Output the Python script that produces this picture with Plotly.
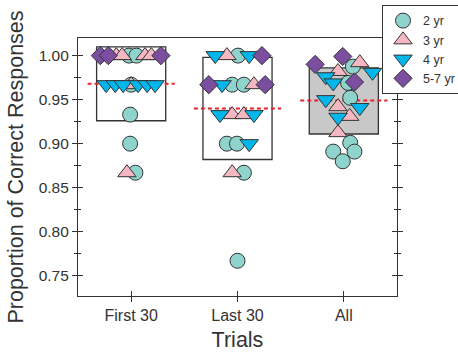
import plotly.graph_objects as go

# ---------------- data ----------------
categories = ["First 30", "Last 30", "All"]
legend_names = ["2 yr", "3 yr", "4 yr", "5-7 yr"]

# each series: group index, jitter offset (category units), proportion value
yr2_group = [0, 0, 0, 0, 0, 0, 1, 1, 1, 1, 1, 1, 1, 2, 2, 2, 2, 2, 2, 2]
yr2_jit = [-0.02, 0.05, 0.0, -0.01, -0.01, 0.04, 0.005, -0.05, 0.06, -0.10, -0.005, 0.06, 0.0,
           0.085, 0.04, 0.06, 0.06, -0.10, 0.10, -0.01]
yr2_val = [1.0, 1.0, 0.967, 0.933, 0.9, 0.867, 1.0, 0.967, 0.967, 0.9, 0.9, 0.867, 0.767,
           0.9875, 0.969, 0.952, 0.901, 0.891, 0.891, 0.880]

yr3_group = [0, 0, 0, 0, 0, 0, 1, 1, 1, 1, 1, 2, 2, 2, 2, 2]
yr3_jit = [-0.14, -0.085, 0.13, 0.19, 0.0, -0.04, -0.10, 0.155, -0.05, 0.06, -0.05,
           0.15, -0.055, -0.055, 0.055, -0.055]
yr3_val = [1.0, 1.0, 1.0, 1.0, 0.967, 0.867, 1.0, 0.967, 0.933, 0.933, 0.867,
           0.992, 0.982, 0.942, 0.931, 0.9125]

yr4_group = [0, 0, 0, 0, 0, 0, 1, 1, 1, 1, 1, 1, 2, 2, 2, 2, 2, 2]
yr4_jit = [-0.235, -0.15, -0.075, 0.065, 0.15, 0.225, -0.21, 0.11, -0.145, -0.165, 0.155, 0.11,
           -0.17, -0.10, 0.27, -0.17, 0.15, -0.055]
yr4_val = [0.967, 0.967, 0.967, 0.967, 0.967, 0.967, 1.0, 1.0, 0.967, 0.933, 0.933, 0.9,
           0.976, 0.969, 0.981, 0.95, 0.941, 0.93]

yr57_group = [0, 0, 0, 1, 1, 1, 2, 2, 2]
yr57_jit = [-0.29, -0.215, 0.28, 0.23, -0.27, 0.26, -0.27, -0.01, 0.10]
yr57_val = [1.0, 1.0, 1.0, 1.0, 0.967, 0.967, 0.99, 0.999, 0.970]

means = [0.968, 0.940, 0.949]
box_low = [0.926, 0.882, 0.911]
box_high = [1.010, 0.998, 0.986]
box_fill = ["white", "white", "#c8c8c8"]

y_ticks = [0.75, 0.80, 0.85, 0.90, 0.95, 1.00]

# ---------------- styling ----------------
FONT = "Liberation Sans, Arial, sans-serif"
INK = "#333333"
BOX_HALF = 0.325
MEAN_HALF = 0.41

series = [
    (legend_names[0], yr2_group, yr2_jit, yr2_val, "circle", "#8fd4cc", 15),
    (legend_names[1], yr3_group, yr3_jit, yr3_val, "triangle-up", "#f5b8c3", 16),
    (legend_names[2], yr4_group, yr4_jit, yr4_val, "triangle-down", "#00b6ea", 16),
    (legend_names[3], yr57_group, yr57_jit, yr57_val, "diamond", "#7b4ea0", 14),
]

fig = go.Figure()

for name, grp, jit, val, sym, col, sz in series:
    fig.add_trace(go.Scatter(
        x=[g + j for g, j in zip(grp, jit)], y=val, mode="markers", name=name,
        marker=dict(symbol=sym, color=col, size=sz, line=dict(color=INK, width=1)),
    ))

# invisible trace to instantiate the overlay axes (for crossing ticks)
fig.add_trace(go.Scatter(x=[], y=[], xaxis="x2", yaxis="y2", showlegend=False, hoverinfo="skip"))

shapes = []
for i in range(len(categories)):
    shapes.append(dict(type="rect", xref="x", yref="y", layer="below",
                       x0=i - BOX_HALF, x1=i + BOX_HALF, y0=box_low[i], y1=box_high[i],
                       fillcolor=box_fill[i], line=dict(color=INK, width=1.3)))
for i in range(len(categories)):
    shapes.append(dict(type="line", xref="x", yref="y", layer="below",
                       x0=i - MEAN_HALF, x1=i + MEAN_HALF, y0=means[i], y1=means[i],
                       line=dict(color="#e8202a", width=2, dash="4px,3px")))

YR = [0.727, 1.02]
XR = [-0.5, 2.5]

fig.update_layout(
    width=458, height=352,
    margin=dict(l=78, r=61, t=38, b=56, autoexpand=False),
    paper_bgcolor="white", plot_bgcolor="white",
    font=dict(family=FONT, color=INK),
    shapes=shapes,
    showlegend=True,
    legend=dict(x=0.953, y=1.128, xanchor="left", yanchor="top",
                bgcolor="white", bordercolor=INK, borderwidth=1,
                font=dict(size=12.5, family=FONT, color=INK),
                tracegroupgap=0, itemwidth=30),
    xaxis=dict(range=XR, tickvals=[0, 1, 2], ticktext=categories, automargin=False,
               ticks="outside", ticklen=5, tickcolor=INK, tickwidth=1,
               showline=True, linecolor=INK, linewidth=1.2, mirror=True,
               showgrid=False, zeroline=False,
               tickfont=dict(size=16, family=FONT, color=INK),
               title=dict(text="Trials", font=dict(size=21.5, family=FONT, color=INK), standoff=8)),
    yaxis=dict(range=YR, tickvals=y_ticks, tickformat=".2f", automargin=False,
               ticks="outside", ticklen=5, tickcolor=INK, tickwidth=1,
               minor=dict(dtick=0.025, tick0=0.725, ticks="outside", ticklen=3, tickcolor=INK),
               showline=True, linecolor=INK, linewidth=1.2, mirror="ticks",
               showgrid=False, zeroline=False,
               tickfont=dict(size=15.5, family=FONT, color=INK),
               title=dict(text="Proportion of Correct Responses",
                          font=dict(size=21.5, family=FONT, color=INK), standoff=9)),
    xaxis2=dict(overlaying="x", anchor="y2", range=XR, tickvals=[0, 1, 2], automargin=False,
                ticks="inside", ticklen=5, tickcolor=INK, tickwidth=1,
                showticklabels=False, showline=False, showgrid=False, zeroline=False),
    yaxis2=dict(overlaying="y", anchor="x2", range=YR, tickvals=y_ticks, side="left",
                automargin=False,
                ticks="inside", ticklen=5, tickcolor=INK, tickwidth=1, mirror="ticks",
                minor=dict(dtick=0.025, tick0=0.725, ticks="inside", ticklen=3, tickcolor=INK),
                showticklabels=False, showline=False, showgrid=False, zeroline=False),
)

fig.write_html("out.html", config={"displayModeBar": False},
               post_script="document.body.style.margin='0';document.body.style.overflow='hidden';")
